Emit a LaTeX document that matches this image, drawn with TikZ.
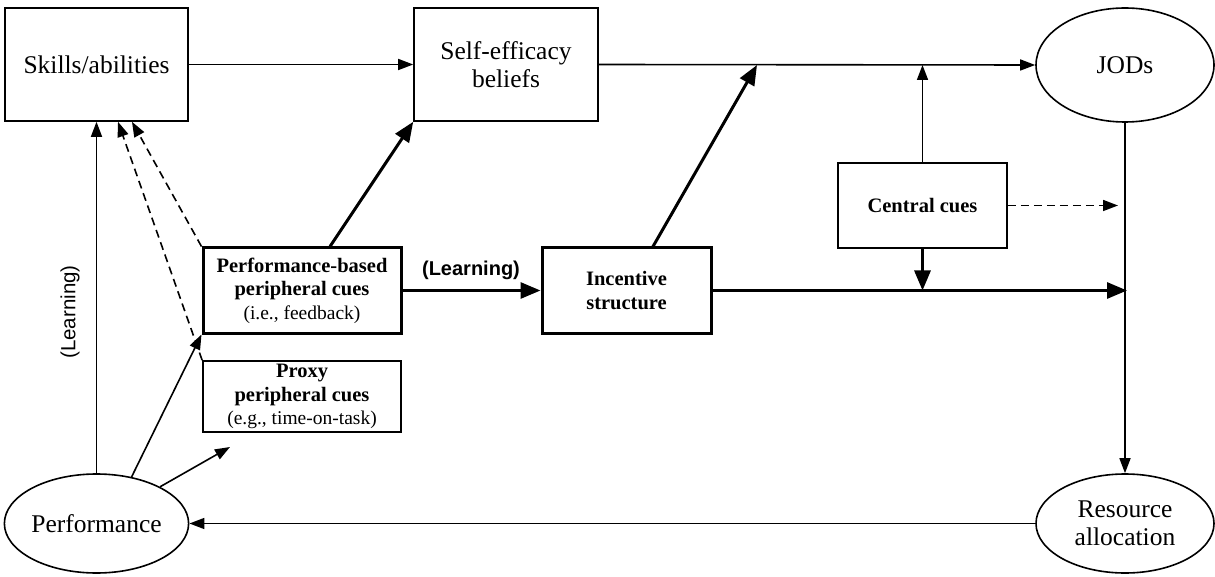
\documentclass[tikz,border=0pt]{standalone}
\usepackage{fontspec}
\setmainfont{Liberation Serif}
\setsansfont{Liberation Sans}
\usetikzlibrary{arrows.meta,shapes.geometric}

\begin{document}
\begin{tikzpicture}[x=1pt,y=-1pt,
  box/.style={draw, line width=1.6pt, inner sep=0pt, align=center},
  boldbox/.style={box, line width=3pt},
  oval/.style={draw, ellipse, line width=1.6pt, inner sep=0pt, align=center},
  big/.style={font=\fontsize{25.5}{27.5}\selectfont},
  cue/.style={font=\fontsize{20.5}{23.5}\selectfont},
  link/.style={line width=1.6pt, -{Triangle[length=15pt,width=11pt]}},
  heavy/.style={line width=3pt, -{Triangle[length=20pt,width=16pt]}},
  hint/.style={link, dash pattern=on 8pt off 5pt},
]
\useasboundingbox (0,0) rectangle (1215,577);

% boxes and ovals
\node[box, big, minimum width=183pt, minimum height=113pt] (skills) at (96.5,64.5) {Skills/abilities};
\node[box, big, minimum width=184pt, minimum height=113pt] (selfeff) at (506,64.5) {Self-efficacy\\beliefs};
\node[oval, big, minimum width=178pt, minimum height=114pt] (jods) at (1125,65) {JODs};
\node[box, cue, minimum width=169pt, minimum height=85pt] (central) at (922.5,205.5) {\textbf{Central cues}};
\node[boldbox, cue, minimum width=198pt, minimum height=85pt] (pbased) at (302,290.5)
  {\textbf{Performance-based}\\\textbf{peripheral cues}\\{\fontsize{19.5}{23.5}\selectfont (i.e., feedback)}};
\node[boldbox, cue, minimum width=169pt, minimum height=85pt] (incentive) at (626.5,290.5)
  {\textbf{Incentive}\\\textbf{structure}};
\node[box, cue, line width=1.8pt, minimum width=198pt, minimum height=71pt] (proxy) at (302,396.5)
  {\textbf{Proxy}\\\textbf{peripheral cues}\\{\fontsize{19.5}{23.5}\selectfont (e.g., time-on-task)}};
\node[oval, big, minimum width=184pt, minimum height=99pt] (perf) at (96.5,523.5) {Performance};
\node[oval, big, minimum width=178pt, minimum height=99pt] (res) at (1125,523.5) {Resource\\allocation};

% free ends of connectors
\coordinate (m1) at (757,65);
\coordinate (m2) at (922.5,65);
\coordinate (dend) at (1118,205.5);
\coordinate (j2) at (922.5,290.5);
\coordinate (rend) at (1127,290.5);
\coordinate (pend) at (230,447);

% labels
\node[font=\sffamily\fontsize{20.5}{24}\selectfont, rotate=90] (lrnv) at (70,312) {(Learning)};
\node[font=\sffamily\bfseries\fontsize{20}{24}\selectfont] (lrnh) at (471,270) {(Learning)};

% connectors
\draw[link] (skills.east) -- (selfeff.west);
\draw[link] (selfeff.east) -- (jods.west);
\draw[heavy] ([xshift=26.5pt]incentive.north) -- (m1);
\draw[link] (central.north) -- (m2);
\draw[hint] (central.east) -- (dend);
\draw[heavy] (central.south) -- (j2);
\draw[heavy] (incentive.east) -- (rend);
\draw[link] (jods.south) -- (res.north);
\draw[link] (res.west) -- (perf.east);
\draw[link] (perf.north) -- (skills.south);
\draw[link] (perf.53) -- (pbased.south west);
\draw[link] (perf.30) -- (pend);
\draw[heavy] ([xshift=28pt]pbased.north) -- (selfeff.south west);
\draw[hint] (pbased.north west) -- ([xshift=35.5pt]skills.south);
\draw[hint] (proxy.north west) -- ([xshift=21.5pt]skills.south);
\draw[heavy] (pbased.east) -- (incentive.west);
\end{tikzpicture}
\end{document}
